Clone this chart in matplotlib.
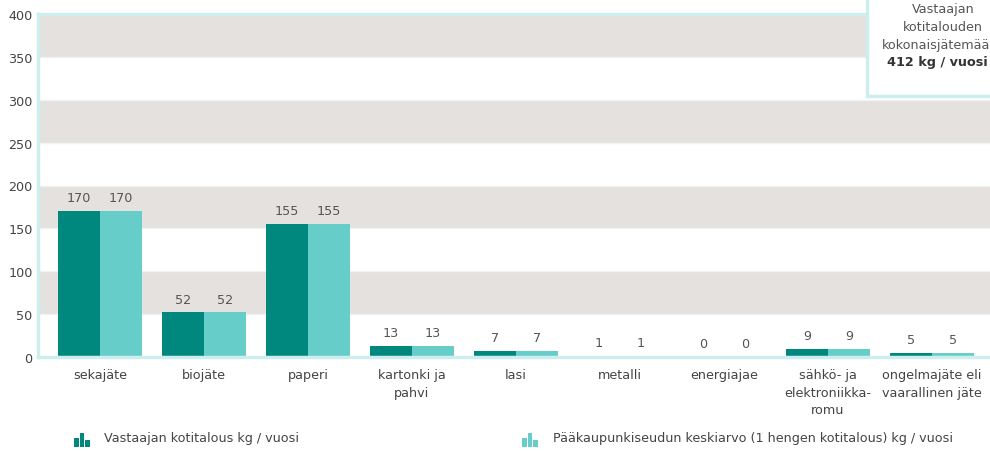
import numpy as np
import matplotlib.pyplot as plt
from matplotlib.patches import Rectangle

plt.rcParams.update({
    "font.family": ["DejaVu Sans"],
    "font.size": 9,
})

categories = ["sekajäte", "biojäte", "paperi", "kartonki ja\npahvi", "lasi",
              "metalli", "energiajae", "sähkö- ja\nelektroniikka-\nromu",
              "ongelmajäte eli\nvaarallinen jäte"]
respondent = [170, 52, 155, 13, 7, 1, 0, 9, 5]
region_avg = [170, 52, 155, 13, 7, 1, 0, 9, 5]
series_names = ["Vastaajan kotitalous kg / vuosi",
                "Pääkaupunkiseudun keskiarvo (1 hengen kotitalous) kg / vuosi"]
total_text = ["Vastaajan", "kotitalouden", "kokonaisjätemäärä"]
total_value = "412 kg / vuosi"

dark = "#00877e"
light = "#66cdc8"
spine = "#cdeeee"
band = "#e4e1de"
txt = "#444444"
fs = 9.2

W, H = 990, 452
fig = plt.figure(figsize=(W / 100, H / 100), dpi=100)
ax = fig.add_axes([38 / W, (H - 358) / H, (W - 38) / W, 343 / H])

x = np.arange(len(categories))
bw = 42 / 104
ax.bar(x - bw / 2, respondent, bw, color=dark, zorder=3)
ax.bar(x + bw / 2, region_avg, bw, color=light, zorder=3)

for xi, v1, v2 in zip(x, respondent, region_avg):
    ax.text(xi - bw / 2, v1 + 8, str(v1), ha="center", va="bottom", color="#555555", fontsize=fs)
    ax.text(xi + bw / 2, v2 + 8, str(v2), ha="center", va="bottom", color="#555555", fontsize=fs)

# alternating bands
for lo in range(50, 400, 100):
    ax.axhspan(lo, lo + 50, color=band, zorder=0, lw=0)
for yv in range(50, 400, 50):
    ax.axhline(yv, color="#eef3f3", lw=1, zorder=1)

ax.set_xlim((38 - 100) / 104, (W - 100) / 104)
ax.set_ylim(0, 400)
ax.set_yticks(range(0, 401, 50))
ax.set_xticks(x)
ax.set_xticklabels(categories, color=txt, fontsize=fs, linespacing=1.45)
ax.tick_params(axis="both", length=0, colors=txt, labelsize=fs)
ax.tick_params(axis="x", pad=8)
ax.tick_params(axis="y", pad=4)

for s in ["top", "right"]:
    ax.spines[s].set_visible(False)
for s in ["left", "bottom"]:
    ax.spines[s].set_color(spine)
    ax.spines[s].set_linewidth(2.5)
ax.spines["bottom"].set_zorder(4)
# top edge line
ax.axhline(400, color=spine, lw=2.5, zorder=4, clip_on=False)

# total box in the top-right corner
fig.patches.append(Rectangle((867 / W, (H - 97) / H), 140 / W, 110 / H,
                             transform=fig.transFigure, facecolor="white",
                             edgecolor=spine, lw=2.5, zorder=10))
for i, line in enumerate(total_text):
    fig.text(943 / W, 1 - (10 + 17.5 * i) / H, line, ha="center", va="center",
             color="#555555", fontsize=fs, zorder=11)
fig.text(988 / W, 1 - 62.5 / H, total_value, ha="right", va="center",
         color="#333333", fontsize=fs, fontweight="bold", zorder=11)

# legend with small bar icons
def legend_icon(x0, y0, color):
    heights = [9, 14, 7]
    for k, h in enumerate(heights):
        fig.patches.append(Rectangle(((x0 + k * 5.5) / W, (H - y0) / H), 4.5 / W, h / H,
                                     transform=fig.transFigure, facecolor=color,
                                     edgecolor="none"))

legend_icon(74, 448, dark)
fig.text(104 / W, 1 - 439 / H, series_names[0], ha="left", va="center", color=txt, fontsize=fs)
legend_icon(522, 448, light)
fig.text(553 / W, 1 - 439 / H, series_names[1], ha="left", va="center", color=txt, fontsize=fs)

fig.savefig("out.png", dpi=100)
